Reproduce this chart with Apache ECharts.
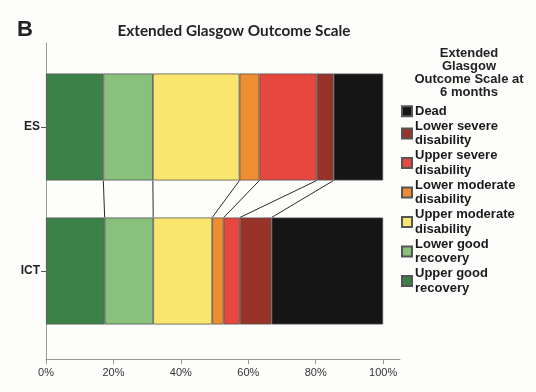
<!DOCTYPE html>
<html>
<head>
<meta charset="utf-8">
<script src="https://cdn.jsdelivr.net/npm/echarts@6/dist/echarts.min.js"></script>
<style>
html,body{margin:0;padding:0;background:#fdfdfc;}
#chart{width:536px;height:392px;}
</style>
</head>
<body>
<div id="chart"></div>
<script>
// Groups (top to bottom)
var groups = ['ES', 'ICT'];
// Outcome categories, left to right in the stacked bars
var outcomes = ['Upper good recovery', 'Lower good recovery', 'Upper moderate disability',
  'Lower moderate disability', 'Upper severe disability', 'Lower severe disability', 'Dead'];
// Percentages per outcome, [ES, ICT]
var upperGood     = [17.0, 17.4];
var lowerGood     = [14.7, 14.4];
var upperModerate = [25.7, 17.5];
var lowerModerate = [5.9, 3.4];
var upperSevere   = [17.0, 4.8];
var lowerSevere   = [5.0, 9.4];
var dead          = [14.7, 33.1];
var xTicks = [0, 20, 40, 60, 80, 100];

var seriesValues = [upperGood, lowerGood, upperModerate, lowerModerate, upperSevere, lowerSevere, dead];
var colors = ['#3c8246', '#89c17c', '#fae56e', '#ef8d32', '#e6473e', '#98332a', '#151515'];
var legendOrder = outcomes.slice().reverse();
var legendLabels = {
  'Dead': 'Dead',
  'Lower severe disability': 'Lower severe\ndisability',
  'Upper severe disability': 'Upper severe\ndisability',
  'Lower moderate disability': 'Lower moderate\ndisability',
  'Upper moderate disability': 'Upper moderate\ndisability',
  'Lower good recovery': 'Lower good\nrecovery',
  'Upper good recovery': 'Upper good\nrecovery'
};

var BAR_W = 107;

// connector boundaries: cumulative sums between segments
var connectors = [];
var cEs = 0, cIct = 0;
for (var i = 0; i < seriesValues.length - 1; i++) {
  cEs += seriesValues[i][0];
  cIct += seriesValues[i][1];
  connectors.push([cEs, 0, cIct, 1]);
}

var series = outcomes.map(function (name, i) {
  return {
    name: name,
    type: 'bar',
    stack: 'total',
    xAxisIndex: 0, yAxisIndex: 0,
    barWidth: BAR_W,
    itemStyle: { color: colors[i], borderColor: '#555', borderWidth: 0.8 },
    emphasis: { disabled: true },
    data: seriesValues[i]
  };
});

series.push({
  type: 'custom',
  xAxisIndex: 0, yAxisIndex: 0,
  silent: true,
  encode: { x: [0, 2], y: [1, 3] },
  data: connectors,
  renderItem: function (params, api) {
    var p1 = api.coord([api.value(0), api.value(1)]);
    var p2 = api.coord([api.value(2), api.value(3)]);
    return {
      type: 'line',
      shape: { x1: p1[0], y1: p1[1] + BAR_W / 2, x2: p2[0], y2: p2[1] - BAR_W / 2 },
      style: { stroke: '#2a2a2a', lineWidth: 1 }
    };
  }
});

var chart = echarts.init(document.getElementById('chart'), null, { renderer: 'canvas' });
chart.setOption({
  backgroundColor: '#fdfdfc',
  animation: false,
  title: [
    { text: 'B', left: 12, top: 14, textStyle: { fontFamily: 'Liberation Sans', fontWeight: 'bold', fontSize: 22, color: '#222' } },
    { text: 'Extended Glasgow Outcome Scale', left: 229, top: 19, textAlign: 'center',
      textStyle: { fontFamily: 'Lato', fontWeight: 'bold', fontSize: 15.3, color: '#222' } },
    { text: 'Extended\nGlasgow\nOutcome Scale at\n6 months', left: 464, top: 42, textAlign: 'center',
      textStyle: { fontFamily: 'Liberation Sans', fontWeight: 'bold', fontSize: 13, lineHeight: 13, color: '#222' } }
  ],
  legend: {
    orient: 'vertical',
    left: 401,
    top: 104,
    padding: 0,
    icon: 'rect',
    itemWidth: 10,
    itemHeight: 10,
    itemGap: 0.5,
    data: legendOrder,
    formatter: function (n) { return legendLabels[n]; },
    textStyle: { fontFamily: 'Liberation Sans', fontWeight: 'bold', fontSize: 13, lineHeight: 14.5, color: '#1a1a1a', padding: [0, 0, 0, -2] },
    selectedMode: false
  },
  grid: [
    { left: 46, width: 354, top: 55, height: 288 },
    { left: 46, width: 354, top: 43, bottom: 33 }
  ],
  xAxis: [
    {
      type: 'value', gridIndex: 0, min: 0, max: 105, offset: 16,
      axisLine: { show: true, lineStyle: { color: '#999' } },
      axisTick: { show: true, length: 5, lineStyle: { color: '#999' }, customValues: xTicks },
      axisLabel: { customValues: xTicks, formatter: '{value}%', margin: 8, fontFamily: 'Liberation Sans', fontSize: 11, color: '#333' },
      splitLine: { show: false }
    },
    { type: 'value', gridIndex: 1, show: false, min: 0, max: 1 }
  ],
  yAxis: [
    {
      type: 'category', gridIndex: 0, inverse: true, data: groups,
      axisLine: { show: false },
      axisTick: { show: true, alignWithLabel: true, length: 5, lineStyle: { color: '#555' } },
      axisLabel: { margin: 6, fontFamily: 'Liberation Sans', fontWeight: 'bold', fontSize: 12, color: '#222' }
    },
    {
      type: 'value', gridIndex: 1, min: 0, max: 1,
      axisLine: { show: true, lineStyle: { color: '#999' } },
      axisTick: { show: false }, axisLabel: { show: false }, splitLine: { show: false }
    }
  ],
  series: series
});
</script>
</body>
</html>
